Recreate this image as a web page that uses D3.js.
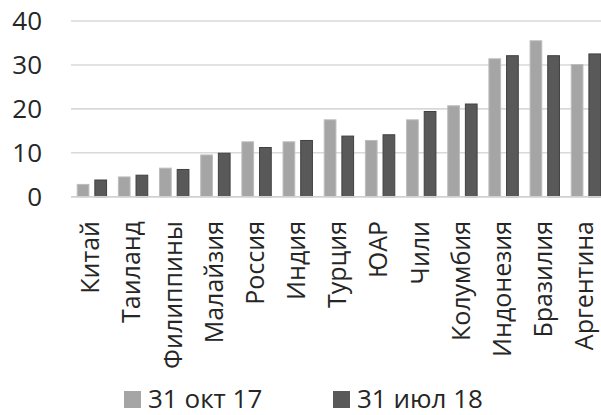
<!DOCTYPE html>
<html>
<head>
<meta charset="utf-8">
<script src="https://cdn.jsdelivr.net/npm/d3@7/dist/d3.min.js"></script>
<style>
  html, body { margin: 0; padding: 0; background: #ffffff; }
  svg { display: block; }
  text { font-family: "Open Sans", sans-serif; fill: #262626; }
</style>
</head>
<body>
<svg id="chart" width="601" height="415"></svg>
<script>
const categories = ["Китай", "Таиланд", "Филиппины", "Малайзия", "Россия", "Индия", "Турция", "ЮАР", "Чили", "Колумбия", "Индонезия", "Бразилия", "Аргентина"];
const seriesNames = ["31 окт 17", "31 июл 18"];
const oct17 = [2.8, 4.5, 6.5, 9.5, 12.5, 12.5, 17.5, 12.8, 17.5, 20.7, 31.4, 35.5, 30.1];
const jul18 = [3.8, 4.9, 6.2, 9.9, 11.2, 12.8, 13.8, 14.1, 19.4, 21.1, 32.1, 32.1, 32.5];
const yTicks = [0, 10, 20, 30, 40];
const colors = ["#a5a5a5", "#595959"];
const strokes = ["#bdbdbd", "#404040"];

const svg = d3.select("#chart");
const plotLeft = 71.3, step = 41.17;
const x0 = d3.scaleBand().domain(categories)
  .range([plotLeft, plotLeft + step * categories.length])
  .paddingInner(0.262).paddingOuter(0.131);
const x1 = d3.scaleBand().domain(seriesNames)
  .range([0, x0.bandwidth()]).paddingInner(0.28);
const y = d3.scaleLinear().domain([0, 40]).range([196.7, 21]);

// gridlines
svg.append("g").selectAll("line").data(yTicks).join("line")
  .attr("x1", 71).attr("x2", 610)
  .attr("y1", d => y(d)).attr("y2", d => y(d))
  .attr("stroke", "#d9d9d9").attr("stroke-width", 1.6);

// y tick labels
svg.append("g").selectAll("text").data(yTicks).join("text")
  .attr("x", 42).attr("y", d => y(d)).attr("dy", "0.36em")
  .attr("text-anchor", "end").attr("font-size", 26)
  .text(d => d);

// bars
const data = categories.map((c, i) => ({ c, vals: [oct17[i], jul18[i]] }));
const groups = svg.append("g").selectAll("g").data(data).join("g")
  .attr("transform", d => `translate(${x0(d.c)},0)`);
groups.selectAll("rect").data(d => d.vals.map((v, k) => ({ v, k })))
  .join("rect")
  .attr("x", d => x1(seriesNames[d.k]) + 0.5)
  .attr("width", x1.bandwidth() - 1)
  .attr("y", d => y(d.v))
  .attr("height", d => y(0) - y(d.v))
  .attr("fill", d => colors[d.k])
  .attr("stroke", d => strokes[d.k]).attr("stroke-width", 1);

// baseline
svg.append("line").attr("x1", 71).attr("x2", 610)
  .attr("y1", y(0)).attr("y2", y(0))
  .attr("stroke", "#d0d0d0").attr("stroke-width", 1.6);

// x labels (rotated, baseline just right of band centre)
svg.append("g").selectAll("text").data(categories).join("text")
  .attr("transform", d => `translate(${x0(d) + x0.bandwidth() / 2 + 7.4},221) rotate(-90)`)
  .attr("text-anchor", "end").attr("font-size", 25)
  .text(d => d);

// legend
const legendX = [124, 333];
const leg = svg.append("g").selectAll("g").data(seriesNames).join("g")
  .attr("transform", (d, i) => `translate(${legendX[i]},391)`);
leg.append("rect").attr("width", 17).attr("height", 17)
  .attr("fill", (d, i) => colors[i]);
leg.append("text").attr("x", 24).attr("y", 17).attr("font-size", 26)
  .text(d => d);
</script>
</body>
</html>
